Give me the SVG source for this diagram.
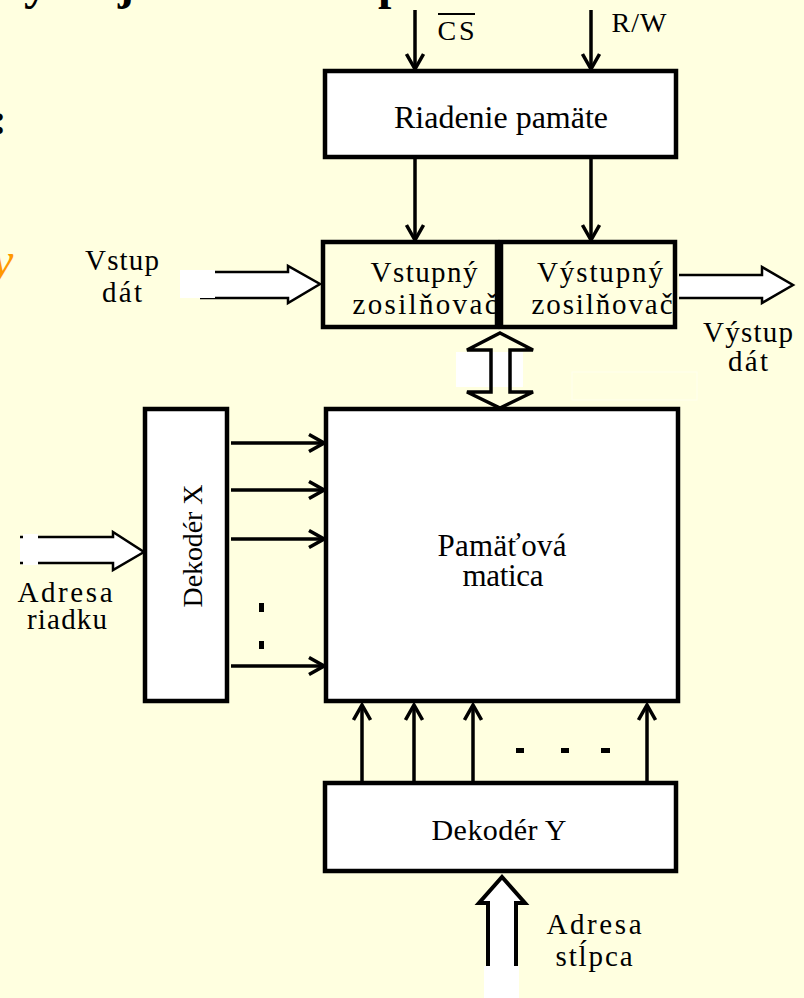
<svg xmlns="http://www.w3.org/2000/svg" width="804" height="998" viewBox="0 0 804 998">
<style>
.box{fill:#fff;stroke:#000;stroke-width:4.5}
.amp{fill:#FFFFE0;stroke:#000;stroke-width:4.5}
.t{font-family:"Liberation Serif","Times New Roman",serif;fill:#000;text-anchor:middle}
.c{stroke:#000;stroke-width:3.5;fill:none}
.blk{fill:#fff;stroke:#000;stroke-width:2.5}
.mask{fill:#fff}
</style>
<defs>
<marker id="ah" markerUnits="userSpaceOnUse" viewBox="0 0 20 20" markerWidth="20" markerHeight="20" refX="18" refY="10" orient="auto">
<path d="M3,1.5 L18,10 L3,18.5" fill="none" stroke="#000" stroke-width="3.5"/>
</marker>
</defs>
<rect width="804" height="998" fill="#FFFFE0"/>
<g id="slide-fragments" font-family="Liberation Serif, serif" font-weight="bold">
<text x="24" y="-1" font-size="48">y</text>
<text x="118" y="-1" font-size="48">j</text>
<text x="378" y="-1" font-size="48">p</text>
<text x="-8" y="134" font-size="44">:</text>
<text x="-8" y="276" font-size="48" font-style="italic" font-weight="normal" fill="#FF9900">y</text>
</g>
<g id="riadenie">
<rect class="box" x="325" y="71" width="351" height="86"/>
<text class="t" x="501" y="128" font-size="32" textLength="214">Riadenie pamäte</text>
</g>
<g id="vstupny">
<rect class="amp" x="323" y="242" width="174" height="85"/>
<text class="t" x="424" y="282" font-size="29" textLength="107">Vstupný</text>
<text class="t" x="425" y="314" font-size="29" textLength="145">zosilňovač</text>
</g>
<g id="vystupny">
<rect class="amp" x="501" y="242" width="174" height="85"/>
<text class="t" x="600" y="282" font-size="29" textLength="126">Výstupný</text>
<text class="t" x="602" y="314" font-size="29" textLength="141">zosilňovač</text>
</g>
<g id="matica">
<rect class="box" x="326" y="409" width="352" height="292"/>
<text class="t" x="502" y="556" font-size="31" textLength="129">Pamäťová</text>
<text class="t" x="503" y="586" font-size="31" textLength="81">matica</text>
</g>
<g id="dekoder-x">
<rect class="box" x="145" y="409" width="82" height="292"/>
<text class="t" transform="translate(202,546) rotate(-90)" x="0" y="0" font-size="28" textLength="123">Dekodér X</text>
</g>
<g id="dekoder-y">
<rect class="box" x="325" y="783" width="351" height="88"/>
<text class="t" x="499" y="840" font-size="30" textLength="135">Dekodér Y</text>
</g>
<g id="labels">
<text class="t" x="456" y="40" font-size="28" textLength="37">CS</text>
<line x1="438" y1="14" x2="475" y2="14" stroke="#000" stroke-width="2"/>
<text class="t" x="639" y="32" font-size="28" textLength="55">R/W</text>
<text class="t" x="122" y="270" font-size="29" textLength="74">Vstup</text>
<text class="t" x="122" y="302" font-size="29" textLength="40">dát</text>
<text class="t" x="748" y="342" font-size="29" textLength="90">Výstup</text>
<text class="t" x="748" y="371" font-size="29" textLength="40">dát</text>
<text class="t" x="65" y="602" font-size="29" textLength="95">Adresa</text>
<text class="t" x="67" y="629" font-size="29" textLength="80">riadku</text>
<text class="t" x="594" y="934" font-size="29" textLength="95">Adresa</text>
<text class="t" x="594" y="966" font-size="29" textLength="77">stĺpca</text>
<rect x="259" y="603" width="5" height="9"/>
<rect x="259" y="641" width="5" height="8"/>
<rect x="516" y="748" width="8" height="5"/>
<rect x="561" y="748" width="8" height="5"/>
<rect x="601" y="748" width="9" height="5"/>
</g>
<g id="connectors">
<line class="c" x1="415" y1="10" x2="415" y2="69" marker-end="url(#ah)"/>
<line class="c" x1="591" y1="10" x2="591" y2="69" marker-end="url(#ah)"/>
<line class="c" x1="415" y1="159" x2="415" y2="240" marker-end="url(#ah)"/>
<line class="c" x1="591" y1="159" x2="591" y2="240" marker-end="url(#ah)"/>
<line class="c" x1="231" y1="443" x2="324" y2="443" marker-end="url(#ah)"/>
<line class="c" x1="231" y1="490" x2="324" y2="490" marker-end="url(#ah)"/>
<line class="c" x1="231" y1="539" x2="324" y2="539" marker-end="url(#ah)"/>
<line class="c" x1="231" y1="666" x2="324" y2="666" marker-end="url(#ah)"/>
<line class="c" x1="362" y1="781" x2="362" y2="705" marker-end="url(#ah)"/>
<line class="c" x1="414" y1="781" x2="414" y2="705" marker-end="url(#ah)"/>
<line class="c" x1="473" y1="781" x2="473" y2="705" marker-end="url(#ah)"/>
<line class="c" x1="647" y1="781" x2="647" y2="705" marker-end="url(#ah)"/>
<path class="blk" d="M200,272 L288,272 L288,266 L320,284 L288,303 L288,298 L200,298"/>
<rect class="mask" x="180" y="270" width="35" height="28"/>
<path class="blk" d="M679,275 L762,275 L762,267 L793,285 L762,303 L762,298 L679,298"/>
<path class="blk" d="M20,537 L113,537 L113,532 L144,552 L113,570 L113,563 L20,563"/>
<rect class="mask" x="23" y="534" width="15" height="31"/>
<path class="blk" style="stroke-width:4" d="M488,967 L488,903 L479,903 L502,877 L525,903 L516,903 L516,967"/>
<rect class="mask" x="484" y="966" width="35" height="32"/>
<rect class="mask" x="456" y="352" width="67" height="35"/>
<path fill="none" stroke="#000" stroke-width="3.5" d="M500,333 L533,350 L510,350 L510,392 L533,392 L500,408 L467,392 L491,392 L491,350 L467,350 Z"/>
<rect x="572" y="372" width="125" height="28" fill="none" stroke="#fff" stroke-width="1" opacity="0.45"/>
</g>
</svg>
